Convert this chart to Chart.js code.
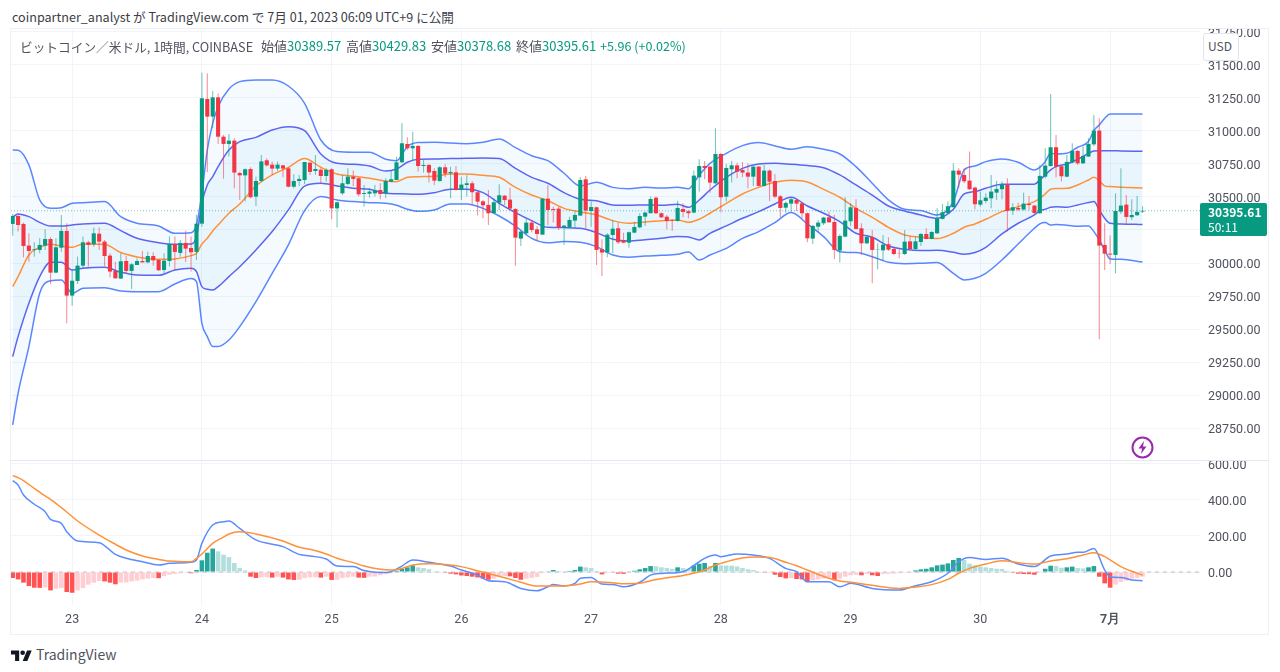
<!DOCTYPE html>
<html>
<head>
<meta charset="utf-8">
<title>BTCUSD 1h</title>
<script src="https://cdn.jsdelivr.net/npm/chart.js@4"></script>
<style>
body { margin: 0; background: #fff; width: 1280px; height: 672px; overflow: hidden; position: relative; font-family: "Noto Sans CJK JP", "Noto Sans", sans-serif; color: #50535e; }
.abs { position: absolute; white-space: nowrap; }
#frame { left: 10px; top: 28px; width: 1257px; height: 605px; border: 1px solid #eef0f6; }
#sep { left: 11px; top: 460px; width: 1257px; height: 1px; background: #e6e8ef; }
#priceBox { left: 11px; top: 29px; width: 1256px; height: 431px; overflow: hidden; }
#macdBox { left: 11px; top: 461px; width: 1256px; height: 173px; overflow: hidden; }
.g { color: #089981; }
.ohlc { top: 36px; font-size: 13px; }
#lastBox { left: 1200px; top: 203px; width: 67px; height: 33px; background: #089981; border-radius: 2px; color: #fff; font-size: 12px; }
</style>
</head>
<body>
<div class="abs" id="frame"></div>
<div class="abs" id="priceBox"><canvas id="price" width="1256" height="431"></canvas></div>
<div class="abs" id="macdBox"><canvas id="macd" width="1256" height="173"></canvas></div>
<div class="abs" id="sep"></div>

<div class="abs" style="left:12px;top:7px;font-size:12.6px;color:#3a3d47">coinpartner_analyst が TradingView.com で 7月 01, 2023 06:09 UTC+9 に公開</div>
<div class="abs" style="left:20px;top:37px;font-size:12.7px">ビットコイン／米ドル, 1時間, COINBASE</div>
<div class="abs ohlc" style="left:261px">始値<span class="g">30389.57</span></div>
<div class="abs ohlc" style="left:346px">高値<span class="g">30429.83</span></div>
<div class="abs ohlc" style="left:431px">安値<span class="g">30378.68</span></div>
<div class="abs ohlc" style="left:516px">終値<span class="g">30395.61</span></div>
<div class="abs ohlc g" style="left:600px;font-size:12.6px">+5.96 (+0.02%)</div>

<div class="abs" style="left:1203px;top:33px;width:34px;height:26px;background:#fff;border:1px solid #e0e3eb;border-radius:3px;font-size:12px;line-height:24px;text-indent:4px">USD</div>

<div class="abs" id="lastBox">
  <div class="abs" style="left:8px;top:0;font-weight:600">30395.61</div>
  <div class="abs" style="left:8px;top:15px">50:11</div>
</div>

<svg class="abs" style="left:1131px;top:436px" width="23" height="23" viewBox="0 0 23 23">
  <circle cx="11.5" cy="11.5" r="10" fill="none" stroke="#9c27b0" stroke-width="2"/>
  <path d="M13 5 L7.5 12.5 H11 L10 18 L15.5 10.5 H12 Z" fill="#9c27b0"/>
</svg>

<svg class="abs" style="left:11px;top:648px" width="21" height="13" viewBox="0 0 36 22">
  <path d="M14 22H7V11H0V4h14v18zM28 22h-8l7.5-18h8L28 22z" fill="#131722"/>
  <circle cx="20" cy="8" r="4" fill="#131722"/>
</svg>
<div class="abs" style="left:36px;top:644px;font-size:14px;color:#50535e">TradingView</div>

<script>
// candles, 1h, index 0 = 22nd 13:00
var candleOpen = [
30296,30356,30296,30132,30101,30099,30132,30182,29927,30116,
30243,29753,29864,29980,30157,30142,30222,30162,30056,29940,
29882,30015,29940,29985,30015,30005,30053,30023,29947,30015,
30144,30076,30152,30114,30084,30298,31243,31109,31255,30957,
30902,30927,30682,30664,30712,30503,30621,30778,30745,30715,
30740,30717,30578,30621,30629,30760,30697,30707,30659,30710,
30414,30528,30599,30654,30642,30523,30525,30528,30553,30528,
30616,30629,30763,30902,30869,30887,30735,30743,30697,30621,
30725,30680,30687,30553,30591,30604,30536,30467,30440,30377,
30457,30510,30480,30409,30185,30225,30306,30255,30215,30488,
30409,30412,30268,30270,30321,30359,30634,30394,30422,30104,
30079,30212,30263,30172,30154,30230,30270,30351,30377,30495,
30377,30351,30326,30318,30409,30392,30382,30649,30735,30730,
30604,30826,30503,30710,30740,30705,30685,30654,30730,30584,
30700,30621,30505,30419,30450,30477,30452,30377,30185,30275,
30301,30346,30311,30094,30200,30316,30417,30263,30149,30197,
30099,30096,30142,30106,30073,30068,30164,30106,30159,30220,
30182,30225,30334,30377,30422,30700,30667,30624,30571,30442,
30470,30490,30533,30559,30594,30397,30417,30405,30447,30435,
30377,30654,30735,30877,30733,30654,30761,30849,30755,30806,
30899,31003,30137,30071,30061,30389,30442,30347,30362,30389.57]
var candleHigh = [
30371,30371,30306,30225,30157,30187,30255,30195,30187,30364,
30301,29947,30048,30200,30169,30268,30270,30175,30073,30010,
30073,30053,29998,30036,30091,30086,30081,30028,30073,30200,
30200,30175,30245,30200,30364,31442,31437,31303,31285,30970,
30977,30945,30692,30717,30725,30654,30818,30793,30768,30768,
30743,30725,30672,30667,30765,30765,30818,30717,30717,30717,
30465,30667,30717,30700,30649,30591,30566,30591,30604,30642,
30705,30806,31058,30952,30995,30894,30780,30750,30717,30735,
30748,30730,30735,30654,30667,30621,30541,30477,30553,30490,
30596,30515,30571,30414,30245,30339,30326,30280,30488,30591,
30427,30427,30288,30351,30389,30649,30659,30465,30427,30180,
30225,30326,30306,30230,30238,30313,30377,30389,30503,30503,
30382,30364,30331,30472,30452,30402,30700,30786,30773,30735,
31020,30831,30750,30773,30760,30765,30755,30735,30735,30743,
30710,30674,30515,30465,30498,30488,30457,30382,30288,30326,
30351,30389,30364,30217,30498,30452,30483,30301,30212,30250,
30149,30212,30195,30124,30111,30250,30200,30200,30225,30263,
30243,30414,30447,30465,30755,30717,30718,30844,30579,30541,
30528,30667,30624,30617,30642,30452,30457,30533,30508,30440,
30743,30869,31281,30970,30740,30819,30907,30856,30882,30945,
31122,31096,30301,30208,30528,30718,30516,30483,30508,30429.83]
var candleLow = [
30207,30238,30043,30010,30048,30073,30099,29841,29922,30086,
29543,29677,29841,29960,29973,30124,30099,29978,29892,29882,
29879,29922,29803,29985,30003,29998,29980,29940,29922,29973,
29947,30048,30008,29935,30023,30275,30690,31020,30902,30639,
30806,30566,30478,30465,30490,30432,30616,30730,30667,30697,
30649,30573,30566,30583,30599,30667,30667,30599,30616,30331,
30268,30515,30591,30584,30503,30427,30495,30503,30483,30490,
30611,30629,30755,30856,30775,30692,30685,30609,30591,30616,
30649,30490,30548,30478,30503,30440,30359,30339,30288,30377,
30402,30440,30407,29980,30129,30212,30233,30175,30212,30288,
30306,30250,30137,30263,30263,30359,30263,30275,29985,29902,
30043,30073,30144,30149,30116,30225,30263,30280,30377,30371,
30339,30255,30245,30313,30346,30339,30377,30541,30634,30533,
30599,30384,30465,30609,30642,30649,30566,30584,30579,30579,
30470,30490,30346,30381,30389,30394,30339,30157,30144,30233,
30288,30306,30031,30003,30195,30280,30255,30061,30144,29846,
29952,30023,30091,30058,30036,30061,30104,30099,30129,30180,
30180,30220,30331,30377,30422,30566,30604,30553,30407,30427,
30452,30415,30478,30483,30238,30364,30394,30397,30402,30372,
30372,30642,30730,30649,30617,30649,30755,30743,30750,30806,
30887,29422,29947,29993,29922,30372,30288,30326,30356,30378.68]
var candleClose = [
30356,30288,30129,30091,30106,30137,30182,29927,30119,30243,
29753,29866,29980,30157,30137,30225,30162,30053,29935,29884,
30013,29940,29990,30015,30005,30053,30020,29945,30018,30144,
30084,30152,30109,30081,30298,31248,31109,31255,30957,30902,
30927,30685,30664,30710,30498,30621,30770,30740,30715,30745,
30715,30578,30621,30637,30765,30690,30712,30659,30705,30414,
30460,30604,30654,30637,30520,30530,30541,30551,30523,30621,
30634,30763,30907,30869,30887,30735,30743,30685,30624,30725,
30677,30690,30553,30594,30604,30536,30465,30437,30377,30460,
30513,30477,30412,30192,30238,30306,30250,30220,30488,30402,
30402,30268,30283,30326,30364,30629,30397,30424,30099,30079,
30215,30260,30157,30154,30233,30273,30356,30382,30485,30377,
30346,30318,30321,30417,30387,30377,30662,30735,30720,30609,
30826,30498,30720,30740,30692,30685,30654,30730,30584,30700,
30616,30503,30417,30455,30483,30450,30377,30187,30281,30306,
30344,30308,30099,30205,30321,30422,30258,30149,30197,30099,
30101,30139,30101,30068,30071,30162,30106,30164,30220,30182,
30235,30339,30384,30430,30700,30669,30619,30559,30445,30475,
30495,30541,30561,30594,30394,30422,30405,30450,30440,30379,
30660,30738,30877,30730,30657,30766,30849,30755,30811,30902,
31003,30132,30071,30064,30394,30435,30349,30364,30387,30395.61]

// bollinger lines, read at these candles only
var bandIdx = [0,1,3,5,7,9,11,13,17,20,23,27,30,33,34,35,36,37,38,40,42,45,48,51,54,57,60,63,66,69,71,73,75,78,81,84,87,90,93,96,99,102,105,108,111,114,117,120,123,125,127,129,132,135,138,141,144,147,150,153,156,159,162,165,168,171,174,176,178,180,183,186,189,190,191,192,193,195,197,199,200,201,202,203,205,209]
var upperOuter = [30856,30854,30743,30478,30414,30419,30452,30457,30465,30351,30301,30280,30225,30230,30288,30528,30856,31058,31184,31318,31374,31387,31387,31341,31210,30932,
30844,30839,30839,30786,30775,30881,30912,30914,30909,30904,30914,30940,30874,30813,30775,30680,30584,30611,30573,30563,30573,
30568,30573,30563,30667,30755,30831,30889,30912,30887,30861,30881,30861,30826,30730,30604,30478,30407,30397,30364,30465,
30705,30735,30768,30788,30763,30705,30725,30768,30831,30826,30831,30877,30920,31003,31046,31096,31129,31129,31129]
var upperInner = [30346,30372,30351,30308,30280,30280,30288,30296,30301,30245,30187,30154,30142,30144,30200,30452,30591,30654,30730,30856,30919,30952,31008,31033,31003,30826,
30755,30748,30735,30697,30712,30763,30786,30788,30791,30793,30796,30791,30717,30649,30604,30533,30483,30472,30440,30437,30440,
30437,30445,30422,30477,30553,30649,30717,30750,30755,30748,30738,30722,30667,30591,30515,30432,30394,30364,30339,30407,
30523,30541,30566,30596,30596,30596,30629,30667,30705,30730,30750,30786,30831,30849,30851,30851,30851,30849,30846]
var basis = [29821,29897,30061,30119,30142,30129,30119,30144,30142,30079,30046,30028,30031,30056,30073,30144,30187,30243,30288,30377,30447,30583,30667,30725,30791,30725,
30674,30657,30642,30621,30616,30649,30654,30657,30674,30674,30664,30649,30573,30515,30472,30414,30387,30364,30321,30301,30311,
30321,30326,30308,30331,30377,30452,30523,30573,30611,30626,30614,30558,30498,30414,30346,30270,30212,30195,30185,30225,
30271,30296,30331,30389,30427,30465,30490,30523,30559,30564,30566,30591,30629,30649,30624,30584,30579,30574,30569]
var lowerInner = [29291,29442,29695,29897,30005,30005,29947,29960,29967,29930,29909,29907,29947,29960,29935,29821,29801,29796,29821,29897,29972,30099,30238,30402,30583,30604,
30584,30566,30558,30528,30525,30523,30520,30533,30558,30558,30533,30452,30382,30321,30270,30268,30263,30230,30180,30167,30177,
30187,30200,30197,30175,30225,30281,30339,30389,30447,30498,30432,30377,30313,30225,30195,30129,30104,30094,30096,30081,
30066,30079,30119,30220,30301,30364,30397,30407,30422,30427,30422,30440,30458,30465,30402,30339,30301,30296,30291]
var lowerOuter = [28773,29013,29367,29771,29866,29872,29771,29808,29813,29788,29783,29783,29841,29882,29859,29543,29442,29367,29367,29417,29518,29707,29922,30137,30397,30503,
30478,30465,30457,30452,30437,30407,30392,30402,30447,30447,30414,30356,30280,30187,30154,30162,30157,30124,30061,30043,30053,
30058,30066,30084,30023,30061,30111,30187,30238,30306,30382,30296,30200,30086,30079,30048,30005,29995,29998,30003,29922,
29872,29884,29922,30023,30144,30263,30296,30306,30288,30291,30286,30278,30281,30238,30175,30099,30031,30028,30008]

// macd pane
var macdIdx = [0,1,2,4,6,7,9,10,12,16,19,21,24,27,29,33,34,35,37,39,40,42,45,50,53,55,58,60,63,65,68,70,72,74,77,
81,83,86,88,91,94,97,99,100,102,104,105,107,109,111,113,116,118,120,124,127,128,130,131,134,137,140,143,145,147,151,153,155,
159,164,167,170,173,175,177,180,183,186,189,192,195,197,198,200,202,203,205,207,209]
var macdLine = [507,483,427,376,335,292,270,224,172,163,98,76,57,39,48,54,67,159,261,279,283,242,178,141,98,89,72,33,30,8,-3,2,33,67,54,
33,11,-17,-48,-54,-91,-104,-82,-69,-78,-63,-35,-30,-67,-69,-82,-57,-17,-8,2,57,76,94,85,100,94,76,20,2,-54,-54,-82,-63,
-91,-100,-76,-54,-7,57,81,70,76,44,30,89,100,109,109,131,11,-26,-31,-44,-48]
var signalLine = [535,524,507,464,422,403,357,333,283,205,154,122,89,70,61,57,76,100,159,194,211,224,211,172,137,126,100,76,52,33,15,11,20,39,46,
39,30,7,-8,-32,-57,-78,-78,-78,-76,-72,-67,-54,-56,-59,-65,-63,-48,-37,-19,2,11,39,48,72,83,81,54,35,11,-35,-50,-57,
-74,-91,-83,-70,-41,-7,20,44,63,52,44,61,74,87,94,107,85,67,30,4,-17]
var macdHist = [
-33,-41,-59,-78,-87,-88,-86,-102,-93,-89,
-111,-115,-102,-89,-70,-59,-50,-52,-59,-68,
-59,-58,-52,-48,-41,-37,-33,-34,-22,-15,
-11,-7,-4,-7,11,65,107,130,115,96,
83,50,22,9,-26,-33,-30,-29,-31,-26,
-31,-41,-44,-43,-33,-30,-29,-31,-26,-44,
-43,-33,-30,-26,-31,-32,-26,-25,-18,-11,
-7,7,18,26,37,26,22,15,4,2,
-4,-9,-13,-19,-22,-26,-30,-37,-43,-37,
-26,-22,-24,-33,-43,-37,-33,-28,-6,2,
11,6,2,6,11,30,26,22,6,-13,
-6,-4,-9,-10,-4,7,15,22,33,32,
26,22,18,26,22,18,37,46,50,33,
50,37,36,35,31,22,15,11,4,-2,
-1,-15,-28,-35,-34,-39,-41,-56,-46,-41,
-37,-30,-46,-37,-26,-18,-15,-18,-11,-18,
-22,-11,-10,-9,-7,-2,-1,9,15,18,
26,37,41,48,67,78,67,46,37,30,
26,22,18,17,7,-4,-9,-11,-12,-15,
-4,18,35,33,24,26,30,22,20,26,
33,-26,-63,-87,-70,-56,-48,-37,-33,-26]

var priceTicks = [28750,29000,29250,29500,29750,30000,30250,30500,30750,31000,31250,31500,31750]
var macdTicks = [0,200,400,600]
var dayIdx = [11,35,59,83,107,131,155,179,203]
var dayLabels = ["23","24","25","26","27","28","29","30","7月"]
var lastPrice = 30395.61

var xMin = -0.31, xMax = 219.63
var fontName = 'Roboto, sans-serif'
var gridColor = "#f2f4f9"

function pts(xs, ys) { return xs.map(function (x, k) { return { x: x, y: ys[k] } }) }
function ohlc(a, b) { return candleOpen.map(function (_, i) { return { x: i, y: [a[i], b[i]] } }) }
var isUp = candleOpen.map(function (o, i) { return candleClose[i] >= o })

function xAxis(labels) {
  return {
    type: "linear", min: xMin, max: xMax, offset: false,
    afterBuildTicks: function (s) { s.ticks = dayIdx.map(function (v) { return { value: v } }) },
    afterFit: function (s) { s.paddingLeft = 0; s.paddingRight = 0; s.height = labels ? 29 : 0 },
    grid: { color: gridColor, drawTicks: false, offset: false },
    border: { display: false },
    ticks: {
      display: labels, padding: 7, color: "#50535e", autoSkip: false, maxRotation: 0,
      font: function (c) { return { family: fontName, size: 12.5, weight: c.index == 8 ? "bold" : "normal" } },
      callback: function (v, i) { return dayLabels[i] }
    }
  }
}
function yAxis(lo, hi, tickList) {
  return {
    position: "right", min: lo, max: hi,
    afterBuildTicks: function (s) { s.ticks = tickList.map(function (v) { return { value: v } }) },
    afterFit: function (s) { s.paddingTop = 0; s.paddingBottom = 0; s.width = 67 },
    grid: { color: gridColor, drawTicks: false },
    border: { display: false },
    ticks: {
      padding: 8, color: "#50535e", autoSkip: false,
      // blank first line + tight lineHeight nudges the label down to sit on the grid line
      font: { family: fontName, size: 12.5, lineHeight: 0.24 },
      callback: function (v) { return ["", v.toFixed(2)] }
    }
  }
}
function bandLine(ys, color, order, fillTo) {
  return {
    type: "line", data: pts(bandIdx, ys), borderColor: color, borderWidth: 1.5, pointRadius: 0,
    cubicInterpolationMode: "monotone", order: order,
    fill: fillTo === undefined ? false : fillTo,
    backgroundColor: "rgba(33,150,243,0.05)"
  }
}
var blueOut = "#5b86ff", blueIn = "#5f62f2", orange = "#ff9138"

new Chart(document.getElementById("price"), {
  data: {
    datasets: [
      bandLine(upperOuter, blueOut, 5, 4),   // 0
      bandLine(upperInner, blueIn, 5, 3),    // 1
      bandLine(basis, orange, 4),            // 2
      bandLine(lowerInner, blueIn, 5),       // 3
      bandLine(lowerOuter, blueOut, 5),      // 4
      {
        type: "line", data: [{ x: xMin, y: lastPrice }, { x: xMax, y: lastPrice }],
        borderColor: "rgba(8,153,129,0.55)", borderWidth: 1, borderDash: [1, 2], pointRadius: 0, order: 3
      },
      {
        type: "bar", data: ohlc(candleLow, candleHigh), grouped: false, barPercentage: 0.2, categoryPercentage: 1, order: 2,
        backgroundColor: isUp.map(function (u) { return u ? "rgba(8,153,129,0.55)" : "rgba(242,54,69,0.55)" })
      },
      {
        type: "bar", data: ohlc(candleOpen, candleClose), grouped: false, barPercentage: 0.76, categoryPercentage: 1, order: 1,
        backgroundColor: isUp.map(function (u) { return u ? "#089981" : "#f23645" })
      }
    ]
  },
  options: {
    responsive: false, animation: false, events: [],
    layout: { padding: 0 },
    plugins: { legend: { display: false }, tooltip: { enabled: false } },
    scales: { x: xAxis(false), y: yAxis(28507.6, 31772.7, priceTicks) }
  }
})

new Chart(document.getElementById("macd"), {
  data: {
    datasets: [
      { type: "line", data: pts(macdIdx, macdLine), borderColor: "#5b8cff", borderWidth: 1.5, pointRadius: 0, cubicInterpolationMode: "monotone", order: 2 },
      { type: "line", data: pts(macdIdx, signalLine), borderColor: orange, borderWidth: 1.5, pointRadius: 0, cubicInterpolationMode: "monotone", order: 1 },
      {
        type: "bar", data: macdHist.map(function (v, i) { return { x: i, y: v } }), grouped: false, barPercentage: 0.85, categoryPercentage: 1, order: 3,
        backgroundColor: macdHist.map(function (v, i) {
          var prev = i ? macdHist[i - 1] : 0
          if (v >= 0) return v > prev ? "#26a69a" : "#b2dfdb"
          return v < prev ? "#ff5252" : "#ffcdd2"
        })
      },
      {
        type: "line", data: [{ x: xMin, y: 0 }, { x: xMax, y: 0 }],
        borderColor: "rgba(120,123,134,0.45)", borderWidth: 1, borderDash: [4, 4], pointRadius: 0, order: 4
      }
    ]
  },
  options: {
    responsive: false, animation: false, events: [],
    layout: { padding: 0 },
    plugins: { legend: { display: false }, tooltip: { enabled: false } },
    scales: { x: xAxis(true), y: yAxis(-183, 616, macdTicks) }
  }
})
</script>
</body>
</html>
